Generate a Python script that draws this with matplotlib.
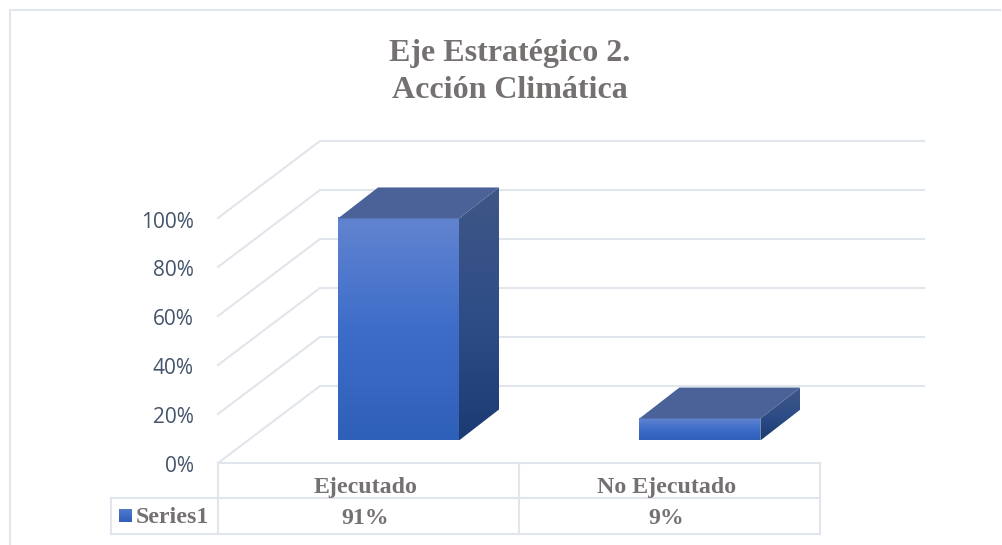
import numpy as np
import matplotlib
matplotlib.use('Agg')
import matplotlib.pyplot as plt
from matplotlib.patches import Polygon

categories = ['Ejecutado', 'No Ejecutado']
values = [91, 9]
value_labels = ['91%', '9%']
series_name = 'Series1'
ticks = [0, 20, 40, 60, 80, 100]
title_lines = ['Eje Estratégico 2.', 'Acción Climática']

GRID = '#e1e5ec'
TEXT = '#767171'
TICK = '#44546a'

# the chart is a fake 3d one, so everything is placed in pixels of the picture
PX_PER_PCT = 2.45
BAR_PX_PER_PCT = 2.44
FLOOR_FRONT = 463
FLOOR_BACK = 386
LEFT_FRONT = 218
LEFT_BACK = 320
GRID_END = 924
BAR_BASE = 440.5
BAR_W = 121
DEPTH_X, DEPTH_Y = 40, 31
TABLE_R = 820
TABLE_L = 111
ROW1, ROW2, ROW3 = 463, 498, 534

fig = plt.figure(figsize=(10.02, 5.45), dpi=100)
ax = fig.add_axes([0, 0, 1, 1])
ax.set_xlim(0, 1002)
ax.set_ylim(545, 0)
ax.axis('off')


def gradient(x0, x1, y0, y1, stops, clip=None):
    n = 64
    pos = np.linspace(0, 1, n)
    cols = [matplotlib.colors.to_rgb(c) for c in stops]
    at = np.linspace(0, 1, len(cols))
    rgb = np.stack([np.interp(pos, at, [c[i] for c in cols]) for i in range(3)], axis=1)
    im = ax.imshow(rgb[:, None, :], extent=[x0, x1, y1, y0], aspect='auto', interpolation='bilinear', zorder=3)
    if clip is not None:
        clip.set_transform(ax.transData)
        im.set_clip_path(clip)


# outer border
ax.plot([10, 10, 1001], [545, 10, 10], color=GRID, lw=1.5, solid_capstyle='butt', zorder=1)

# grid lines, back wall and left wall
for t in ticks:
    h = t * PX_PER_PCT
    ax.plot([LEFT_FRONT, LEFT_BACK, GRID_END], [FLOOR_FRONT - h, FLOOR_BACK - h, FLOOR_BACK - h],
            color=GRID, lw=1.5, zorder=1)
    ax.text(194, FLOOR_FRONT + 3 - h * 0.995, f'{t}%', ha='right', va='center',
            fontsize=15, color=TICK, family='Open Sans')

# bars
slot = (TABLE_R - LEFT_FRONT) / len(categories)
for i, v in enumerate(values):
    x0 = LEFT_FRONT + slot * (i + 0.5) + 30 + 0.4 * i - BAR_W / 2
    x1 = x0 + BAR_W
    top = BAR_BASE - v * BAR_PX_PER_PCT
    gradient(x0, x1, top, BAR_BASE, ['#6284d0', '#3d6dc9', '#2f60b9'])
    side = Polygon([(x1, top), (x1 + DEPTH_X, top - DEPTH_Y), (x1 + DEPTH_X, BAR_BASE - DEPTH_Y), (x1, BAR_BASE)],
                   closed=True, facecolor='none', edgecolor='none')
    ax.add_patch(side)
    gradient(x1, x1 + DEPTH_X, top - DEPTH_Y, BAR_BASE, ['#3f5787', '#2f4d86', '#1c3b73'], clip=side)
    ax.add_patch(Polygon([(x0, top), (x0 + DEPTH_X, top - DEPTH_Y), (x1 + DEPTH_X, top - DEPTH_Y), (x1, top)],
                         closed=True, facecolor='#4a6298', edgecolor='none', zorder=4))

ax.set_xlim(0, 1002)
ax.set_ylim(545, 0)

# data table
mid = LEFT_FRONT + slot
ax.plot([LEFT_FRONT, TABLE_R], [ROW1, ROW1], color=GRID, lw=1.5, zorder=2)
ax.plot([TABLE_L, TABLE_R], [ROW2, ROW2], color=GRID, lw=1.5, zorder=2)
ax.plot([TABLE_L, TABLE_R], [ROW3, ROW3], color=GRID, lw=1.5, zorder=2)
for x, y0, y1 in [(TABLE_L, ROW2, ROW3), (LEFT_FRONT, ROW1, ROW3), (mid, ROW1, ROW3), (TABLE_R, ROW1, ROW3)]:
    ax.plot([x, x], [y0, y1], color=GRID, lw=1.5, zorder=2)

serif = dict(family='Liberation Serif', fontweight='bold', color=TEXT, ha='center', va='center')
for i, c in enumerate(categories):
    cx = LEFT_FRONT + slot * (i + 0.5)
    ax.text(cx - 3, 487, c, fontsize=17.2, **serif)
    ax.text(cx - 3, 518, value_labels[i], fontsize=17.2, **serif)

gradient(119, 132, 509, 522, ['#5279cc', '#2f60b9'])
ax.set_xlim(0, 1002)
ax.set_ylim(545, 0)
ax.text(136, 517.5, series_name, fontsize=17.2, family='Liberation Serif', fontweight='bold',
        color=TEXT, ha='left', va='center')

# title
ax.text(510, 53, title_lines[0], fontsize=23, **serif)
ax.text(510, 90, title_lines[1], fontsize=23, **serif)

fig.savefig('out.png', dpi=100, facecolor='white')
